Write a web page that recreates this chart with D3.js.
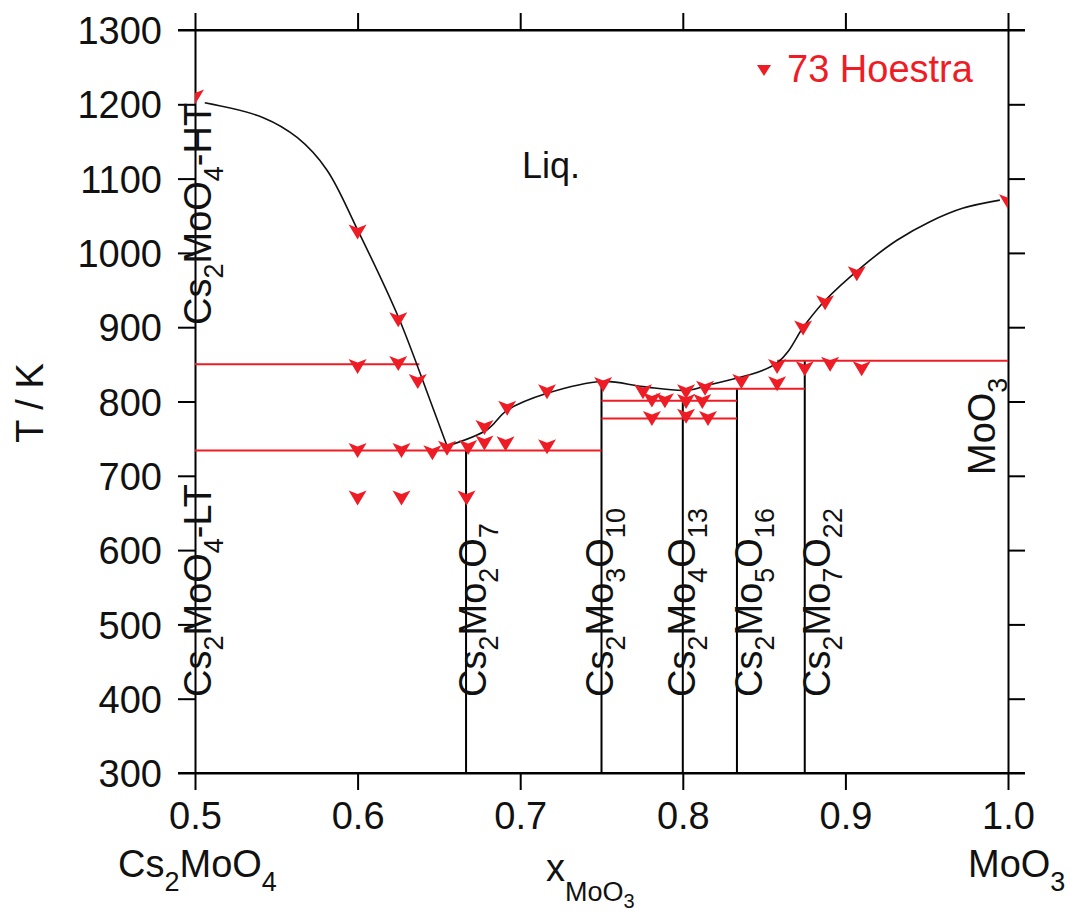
<!DOCTYPE html>
<html><head><meta charset="utf-8">
<script src="https://cdn.jsdelivr.net/npm/d3@7"></script>
<style>
html,body{margin:0;padding:0;background:#fff;}
svg text{font-family:"Liberation Sans",Arial,Helvetica,sans-serif;}
</style></head>
<body>
<svg id="chart" width="1075" height="914"></svg>
<script>
// ---- data ----
const xTicks = [0.5, 0.6, 0.7, 0.8, 0.9, 1.0];
const xTickLabels = ["0.5", "0.6", "0.7", "0.8", "0.9", "1.0"];
const yTicks = [300, 400, 500, 600, 700, 800, 900, 1000, 1100, 1200, 1300];

// Hoestra experimental points
const hoestraX = [0.5, 0.6, 0.625, 0.6, 0.625, 0.637, 0.6, 0.627, 0.646, 0.655, 0.668, 0.678, 0.678, 0.691, 0.692, 0.7165, 0.7165,
  0.6, 0.627, 0.667, 0.751, 0.7755, 0.781, 0.789, 0.781, 0.802, 0.802, 0.812, 0.802, 0.8137, 0.8155, 0.836, 0.858, 0.858,
  0.875, 0.874, 0.8875, 0.8906, 0.907, 0.91, 1.0];
const hoestraT = [1212, 1030, 912, 849, 853, 829, 736, 736, 733, 739, 740, 767, 746, 745, 793, 815, 741,
  672, 672, 672, 825, 815, 804, 803, 779, 815, 802, 802, 782, 820, 779, 829, 849, 826,
  846, 901, 935, 852, 974, 846, 1071];

// liquidus (calculated)
const liqLeftX = [0.506, 0.542, 0.563, 0.581, 0.6, 0.625, 0.6445, 0.655];
const liqLeftT = [1202, 1182, 1155, 1112, 1031, 914, 802, 740];
const liqRightX = [0.655, 0.6796, 0.6919, 0.7165, 0.751, 0.7755, 0.8026, 0.8155, 0.858, 0.875, 0.8875, 0.910, 0.9317, 0.952, 0.972, 0.995];
const liqRightT = [740, 762, 788, 811, 827, 820, 815, 822, 852, 903, 936, 981, 1017, 1042, 1060, 1071];

// invariant (red) lines
const invX1 = [0.5, 0.5, 0.75, 0.75, 0.8155, 0.858];
const invX2 = [0.638, 0.75, 0.8333, 0.8333, 0.875, 1.0];
const invT  = [850, 734, 801, 777, 817, 855];

// compounds (black vertical lines)
const compX = [0.6667, 0.75, 0.8, 0.8333, 0.875];
const compTop = [734, 826, 801, 817, 855];

// ---- layout ----
const svg = d3.select("#chart");
const L = 195, R = 1008, T0 = 30, B = 773;
const x = d3.scaleLinear().domain([0.5, 1.0]).range([L, R]);
const y = d3.scaleLinear().domain([300, 1300]).range([B, T0]);
const RED = "#ee1c25";
const FONT = 38, SUB = 27;

// clip
svg.append("defs").append("clipPath").attr("id", "clip")
  .append("rect").attr("x", L).attr("y", T0).attr("width", R - L).attr("height", B - T0);

// axes
const tk = 17;
const axL = svg.append("g").attr("transform", `translate(${L},0)`)
  .call(d3.axisLeft(y).tickValues(yTicks).tickSize(tk).tickSizeOuter(0).tickPadding(16).tickFormat(d3.format("d")));
const axR = svg.append("g").attr("transform", `translate(${R},0)`)
  .call(d3.axisRight(y).tickValues(yTicks).tickSize(tk).tickSizeOuter(0).tickFormat(""));
const axB = svg.append("g").attr("transform", `translate(0,${B})`)
  .call(d3.axisBottom(x).tickValues(xTicks).tickSize(tk).tickSizeOuter(0).tickPadding(12).tickFormat((d, i) => xTickLabels[i]));
const axT = svg.append("g").attr("transform", `translate(0,${T0})`)
  .call(d3.axisTop(x).tickValues(xTicks).tickSize(tk).tickSizeOuter(0).tickFormat(""));
[axL, axR, axB, axT].forEach(a => {
  a.select(".domain").attr("stroke", "#000").attr("stroke-width", 2);
  a.selectAll(".tick line").attr("stroke", "#000").attr("stroke-width", 2);
  a.selectAll(".tick text").attr("font-size", FONT).attr("fill", "#111")
    .style("font-family", '"Liberation Sans",Arial,sans-serif');
});
axL.selectAll(".tick text").attr("dy", "0.36em");
axB.selectAll(".tick text").attr("dy", "0.72em");
// extend horizontal frame lines over the corners
svg.append("line").attr("x1", L - tk).attr("x2", R + tk).attr("y1", T0).attr("y2", T0).attr("stroke", "#000").attr("stroke-width", 2);
svg.append("line").attr("x1", L - tk).attr("x2", R + tk).attr("y1", B).attr("y2", B).attr("stroke", "#000").attr("stroke-width", 2);

const plot = svg.append("g").attr("clip-path", "url(#clip)");

// compound lines
plot.selectAll(".comp").data(compX).enter().append("line")
  .attr("x1", d => x(d)).attr("x2", d => x(d))
  .attr("y1", y(300)).attr("y2", (d, i) => y(compTop[i]))
  .attr("stroke", "#000").attr("stroke-width", 2);

// invariant lines
plot.selectAll(".inv").data(invT).enter().append("line")
  .attr("x1", (d, i) => x(invX1[i])).attr("x2", (d, i) => x(invX2[i]))
  .attr("y1", d => y(d)).attr("y2", d => y(d))
  .attr("stroke", RED).attr("stroke-width", 2);

// liquidus
const line = d3.line().x(d => x(d[0])).y(d => y(d[1])).curve(d3.curveCatmullRom.alpha(0.5));
plot.append("path").datum(liqLeftX.map((v, i) => [v, liqLeftT[i]]))
  .attr("d", line).attr("fill", "none").attr("stroke", "#111").attr("stroke-width", 1.6);
plot.append("path").datum(liqRightX.map((v, i) => [v, liqRightT[i]]))
  .attr("d", line).attr("fill", "none").attr("stroke", "#111").attr("stroke-width", 1.6);

// markers
const markerPath = "M-9,-6 L0,-2.5 L9,-6 L0,9 Z";
plot.selectAll(".pt").data(hoestraX).enter().append("path")
  .attr("d", markerPath)
  .attr("transform", (d, i) => `translate(${x(d)},${y(hoestraT[i])})`)
  .attr("fill", RED);

// text helper: parts = [[text, isSub]]
function label(g, parts, size, subSize, subDy) {
  const t = g.append("text").attr("font-size", size).attr("fill", "#111");
  let cur = 0;
  parts.forEach(p => {
    const want = p[1] ? subDy : 0;
    const ts = t.append("tspan").text(p[0]).attr("dy", want - cur);
    if (p[1]) ts.attr("font-size", subSize);
    cur = want;
  });
  return t;
}

// rotated compound labels (baseline x, start y)
const compLabels = [
  {x: 211, y: 325, parts: [["Cs",0],["2",1],["MoO",0],["4",1],["-HT",0]]},
  {x: 211, y: 697, parts: [["Cs",0],["2",1],["MoO",0],["4",1],["-LT",0]]},
  {x: 486, y: 697, parts: [["Cs",0],["2",1],["Mo",0],["2",1],["O",0],["7",1]]},
  {x: 613, y: 697, parts: [["Cs",0],["2",1],["Mo",0],["3",1],["O",0],["10",1]]},
  {x: 695, y: 697, parts: [["Cs",0],["2",1],["Mo",0],["4",1],["O",0],["13",1]]},
  {x: 762, y: 697, parts: [["Cs",0],["2",1],["Mo",0],["5",1],["O",0],["16",1]]},
  {x: 830, y: 697, parts: [["Cs",0],["2",1],["Mo",0],["7",1],["O",0],["22",1]]},
  {x: 995, y: 475, parts: [["MoO",0],["3",1]]}
];
compLabels.forEach(c => {
  const g = svg.append("g").attr("transform", `translate(${c.x},${c.y}) rotate(-90)`);
  label(g, c.parts, FONT, SUB, 12);
});

// Liq.
svg.append("text").attr("x", 522).attr("y", 178).attr("font-size", 36).attr("fill", "#111").text("Liq.");

// bottom labels
label(svg.append("g").attr("transform", "translate(118,877)"), [["Cs",0],["2",1],["MoO",0],["4",1]], FONT, SUB, 14);
label(svg.append("g").attr("transform", "translate(968,877)"), [["MoO",0],["3",1]], FONT, SUB, 14);
{
  const t = svg.append("text").attr("x", 546).attr("y", 881).attr("font-size", FONT).attr("fill", "#111");
  t.append("tspan").text("x");
  t.append("tspan").text("MoO").attr("font-size", SUB).attr("dy", 20);
  t.append("tspan").text("3").attr("font-size", 20).attr("dy", 7);
}

// y title
svg.append("text").attr("transform", "translate(43,403) rotate(-90)")
  .attr("text-anchor", "middle").attr("font-size", FONT).attr("fill", "#111").text("T / K");

// legend
svg.append("path").attr("d", "M-7,-5 L7,-5 L0,6 Z").attr("transform", "translate(764,70)").attr("fill", RED);
svg.append("text").attr("x", 787).attr("y", 82).attr("font-size", FONT).attr("fill", RED).text("73 Hoestra");
</script>
</body></html>
